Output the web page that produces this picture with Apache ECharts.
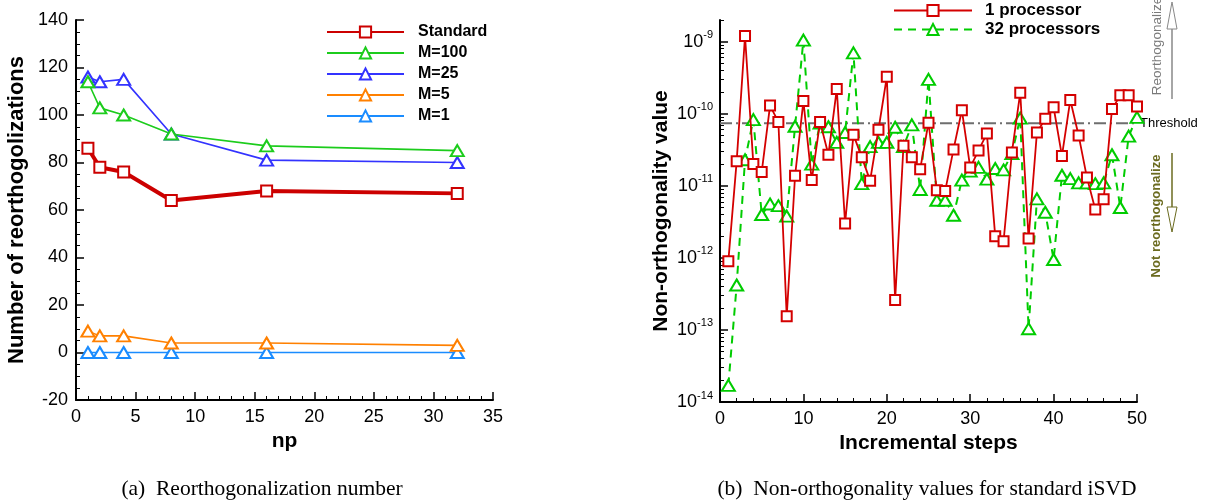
<!DOCTYPE html>
<html>
<head>
<meta charset="utf-8">
<script src="https://cdn.jsdelivr.net/npm/echarts@6/dist/echarts.min.js"></script>
<style>
  html, body { margin: 0; padding: 0; background: #fff; }
  #chart { width: 1208px; height: 503px; }
</style>
</head>
<body>
<div id="chart"></div>
<script>
// (a) reorthogonalization counts vs np
const npValues = [1, 2, 4, 8, 16, 32];
const standardCounts = [86, 78, 76, 64, 68, 67];
const m100Counts = [114, 103, 100, 92, 87, 85];
const m25Counts = [116, 114, 115, 92, 81, 80];
const m5Counts = [9, 7, 7, 4, 4, 3];
const m1Counts = [0, 0, 0, 0, 0, 0];

// (b) non-orthogonality values per incremental step
const steps = [1, 2, 3, 4, 5, 6, 7, 8, 9, 10, 11, 12, 13, 14, 15, 16, 17, 18, 19, 20,
  21, 22, 23, 24, 25, 26, 27, 28, 29, 30, 31, 32, 33, 34, 35, 36, 37, 38, 39, 40,
  41, 42, 43, 44, 45, 46, 47, 48, 49, 50];
const oneProc = [9e-13, 2.2e-11, 1.2e-9, 2.0e-11, 1.55e-11, 1.3e-10, 7.7e-11, 1.55e-13, 1.38e-11, 1.5e-10,
  1.2e-11, 7.7e-11, 2.7e-11, 2.2e-10, 3.0e-12, 5.1e-11, 2.5e-11, 1.18e-11, 6.0e-11, 3.25e-10,
  2.6e-13, 3.6e-11, 2.5e-11, 1.7e-11, 7.5e-11, 8.7e-12, 8.5e-12, 3.2e-11, 1.12e-10, 1.8e-11,
  3.1e-11, 5.3e-11, 2.0e-12, 1.7e-12, 2.9e-11, 1.96e-10, 1.86e-12, 5.5e-11, 8.5e-11, 1.23e-10,
  2.6e-11, 1.55e-10, 5.0e-11, 1.3e-11, 4.7e-12, 6.5e-12, 1.16e-10, 1.8e-10, 1.8e-10, 1.26e-10];
const procs32 = [1.7e-14, 4.2e-13, 2.3e-11, 8.3e-11, 4.0e-12, 5.6e-12, 5.3e-12, 3.8e-12, 6.7e-11, 1.05e-9,
  2.0e-11, 7.4e-11, 6.6e-11, 4.0e-11, 5.5e-11, 7.0e-10, 1.07e-11, 3.5e-11, 4.0e-11, 4.0e-11,
  6.5e-11, 3.5e-11, 7.0e-11, 8.9e-12, 3.0e-10, 6.3e-12, 6.3e-12, 3.9e-12, 1.2e-11, 1.6e-11,
  1.8e-11, 1.24e-11, 1.74e-11, 1.66e-11, 2.8e-11, 8.7e-11, 1.04e-13, 6.6e-12, 4.3e-12, 9.5e-13,
  1.4e-11, 1.26e-11, 1.1e-11, 1.1e-11, 1.07e-11, 1.1e-11, 2.7e-11, 5.0e-12, 4.9e-11, 8.9e-11];
const threshold = 7.4e-11;
const thresholdSpan = [0, 51];

const logMajor = [1e-14, 1e-13, 1e-12, 1e-11, 1e-10, 1e-9];
const logMinorFactors = [2, 3, 4, 5, 6, 7, 8, 9];

const SANS = '"Liberation Sans", Arial, Helvetica, sans-serif';
const SERIF = '"Liberation Serif", "Times New Roman", serif';

const logMinor = [];
logMajor.forEach(d => logMinorFactors.forEach(f => {
    if (d * f <= 2e-9) logMinor.push(+(d * f).toPrecision(3));
}));

function pairs(xs, ys) {
    return xs.map((x, i) => [x, ys[i]]);
}

function lineSeries(name, data, color, opts) {
    return Object.assign({
        name: name,
        type: 'line',
        xAxisIndex: 0,
        yAxisIndex: 0,
        data: data,
        symbol: 'emptyTriangle',
        symbolSize: [13, 11],
        color: color,
        lineStyle: { color: color, width: 1.6 },
        itemStyle: { color: color, borderColor: color, borderWidth: 2 },
        emphasis: { disabled: true },
        animation: false
    }, opts || {});
}

const axisLineStyle = { show: true, onZero: false, lineStyle: { color: '#000', width: 2 } };
const tickLabel = { color: '#000', fontSize: 18, fontFamily: SANS };
const axisName = { color: '#000', fontSize: 21, fontWeight: 'bold', fontFamily: SANS };
const majorTick = { inside: true, length: 8, lineStyle: { color: '#000', width: 1.5 } };

const chart = echarts.init(document.getElementById('chart'), null, { renderer: 'canvas' });

chart.setOption({
    backgroundColor: '#fff',
    animation: false,
    grid: [
        { left: 76, right: 715, top: 20, bottom: 103 },
        { left: 720, right: 71, top: 20, bottom: 101 }
    ],
    legend: [
        {
            left: 326, top: 24, orient: 'vertical', padding: 0,
            itemWidth: 77, itemHeight: 14, itemGap: 5,
            textStyle: { fontSize: 16, fontWeight: 'bold', fontFamily: SANS, color: '#000', padding: [0, 0, 0, 9] },
            data: ['Standard', 'M=100', 'M=25', 'M=5', 'M=1'],
            selectedMode: false
        },
        {
            left: 893, top: 2, orient: 'vertical', padding: 0,
            itemWidth: 78, itemHeight: 14, itemGap: 2,
            textStyle: { fontSize: 17, fontWeight: 'bold', fontFamily: SANS, color: '#000', padding: [0, 0, 0, 8] },
            data: ['1 processor', '32 processors'],
            selectedMode: false
        }
    ],
    xAxis: [
        {
            type: 'value', gridIndex: 0, min: 0, max: 35, interval: 5,
            name: 'np', nameLocation: 'middle', nameGap: 26, nameTextStyle: axisName,
            axisLine: axisLineStyle,
            axisTick: majorTick,
            minorTick: { show: true, splitNumber: 5, length: 4, lineStyle: { color: '#000', width: 1 } },
            axisLabel: Object.assign({ margin: 8 }, tickLabel),
            splitLine: { show: false }
        },
        {
            type: 'value', gridIndex: 1, min: 0, max: 50, interval: 10,
            name: 'Incremental steps', nameLocation: 'middle', nameGap: 26, nameTextStyle: axisName,
            axisLine: axisLineStyle,
            axisTick: majorTick,
            minorTick: { show: true, splitNumber: 5, length: 4, lineStyle: { color: '#000', width: 1 } },
            axisLabel: Object.assign({ margin: 8 }, tickLabel),
            splitLine: { show: false }
        }
    ],
    yAxis: [
        {
            type: 'value', gridIndex: 0, min: -20, max: 140, interval: 20,
            name: 'Number of reorthogolizations', nameLocation: 'middle', nameGap: 48,
            nameTextStyle: Object.assign({}, axisName, { fontSize: 22 }),
            axisLine: axisLineStyle,
            axisTick: majorTick,
            minorTick: { show: true, splitNumber: 4, length: 4, lineStyle: { color: '#000', width: 1 } },
            axisLabel: Object.assign({ margin: 8 }, tickLabel),
            splitLine: { show: false }
        },
        {
            type: 'log', gridIndex: 1, position: 'left', min: 1e-14, max: 2e-9, logBase: 10,
            name: 'Non-orthogonality value', nameLocation: 'middle', nameGap: 48, nameTextStyle: axisName,
            axisLine: axisLineStyle,
            axisTick: Object.assign({ customValues: logMajor }, majorTick),
            axisLabel: {
                margin: 7,
                customValues: logMajor,
                formatter: v => '{b|10}{s|' + Math.round(Math.log10(v)) + '}',
                rich: {
                    b: { fontSize: 18, fontFamily: SANS, color: '#000', lineHeight: 24 },
                    s: { fontSize: 11, fontFamily: SANS, color: '#000', lineHeight: 13, verticalAlign: 'top' }
                }
            },
            splitLine: { show: false }
        },
        {
            // minor ticks for the log axis (2..9 in each decade)
            type: 'log', gridIndex: 1, position: 'left', min: 1e-14, max: 2e-9, logBase: 10,
            axisLine: { show: false, onZero: false },
            axisTick: { show: true, inside: true, length: 4, customValues: logMinor, lineStyle: { color: '#000', width: 1 } },
            axisLabel: { show: false },
            splitLine: { show: false }
        }
    ],
    series: [
        lineSeries('M=1', pairs(npValues, m1Counts), '#1a8cff'),
        lineSeries('M=5', pairs(npValues, m5Counts), '#ff8000'),
        lineSeries('M=25', pairs(npValues, m25Counts), '#3333ff'),
        lineSeries('M=100', pairs(npValues, m100Counts), '#1ccc1c'),
        lineSeries('Standard', pairs(npValues, standardCounts), '#cc0000', {
            symbol: 'emptyRect', symbolSize: 11,
            lineStyle: { color: '#cc0000', width: 4 },
            z: 5
        }),
        {
            name: 'Threshold',
            type: 'line',
            xAxisIndex: 1,
            yAxisIndex: 2,
            data: thresholdSpan.map(x => [x, threshold]),
            symbol: 'none',
            silent: true,
            animation: false,
            clip: false,
            lineStyle: { color: '#6e6e6e', width: 2, type: [12, 4, 2, 4] },
            endLabel: { show: true, formatter: 'Threshold', color: '#000', fontSize: 13, fontFamily: SANS, distance: 2 },
            z: 1
        },
        lineSeries('32 processors', pairs(steps, procs32), '#00cc00', {
            xAxisIndex: 1, yAxisIndex: 1,
            symbolSize: [13, 11],
            lineStyle: { color: '#00cc00', width: 2, type: [8, 6] }
        }),
        lineSeries('1 processor', pairs(steps, oneProc), '#d40000', {
            xAxisIndex: 1, yAxisIndex: 1,
            symbol: 'emptyRect', symbolSize: 10,
            lineStyle: { color: '#d40000', width: 1.8 },
            z: 4
        })
    ],
    graphic: [
        // reorthogonalize arrow (up)
        { type: 'line', shape: { x1: 1172, y1: 99, x2: 1172, y2: 29 }, style: { stroke: '#888', lineWidth: 1.5 } },
        { type: 'polygon', shape: { points: [[1167, 29], [1177, 29], [1172, 2]] }, style: { fill: '#fff', stroke: '#888', lineWidth: 1 } },
        {
            type: 'text', x: 1157, y: 46, rotation: Math.PI / 2,
            style: { text: 'Reorthogonalize', fill: '#7a7a7a', fontSize: 13.5, fontFamily: SANS, align: 'center', verticalAlign: 'middle' }
        },
        // not reorthogonalize arrow (down)
        { type: 'line', shape: { x1: 1172, y1: 153, x2: 1172, y2: 207 }, style: { stroke: '#6b6b20', lineWidth: 1.5 } },
        { type: 'polygon', shape: { points: [[1167, 207], [1177, 207], [1172, 232]] }, style: { fill: '#fff', stroke: '#6b6b20', lineWidth: 1 } },
        {
            type: 'text', x: 1156, y: 216, rotation: Math.PI / 2,
            style: { text: 'Not reorthogonalize', fill: '#6b6b20', fontSize: 13, fontWeight: 'bold', fontFamily: SANS, align: 'center', verticalAlign: 'middle' }
        },
        // captions
        {
            type: 'text', x: 262, y: 489,
            style: { text: '(a)  Reorthogonalization number', fill: '#000', fontSize: 21.5, fontFamily: SERIF, align: 'center', verticalAlign: 'middle' }
        },
        {
            type: 'text', x: 927, y: 489,
            style: { text: '(b)  Non-orthogonality values for standard iSVD', fill: '#000', fontSize: 21.5, fontFamily: SERIF, align: 'center', verticalAlign: 'middle' }
        }
    ]
});
</script>
</body>
</html>
